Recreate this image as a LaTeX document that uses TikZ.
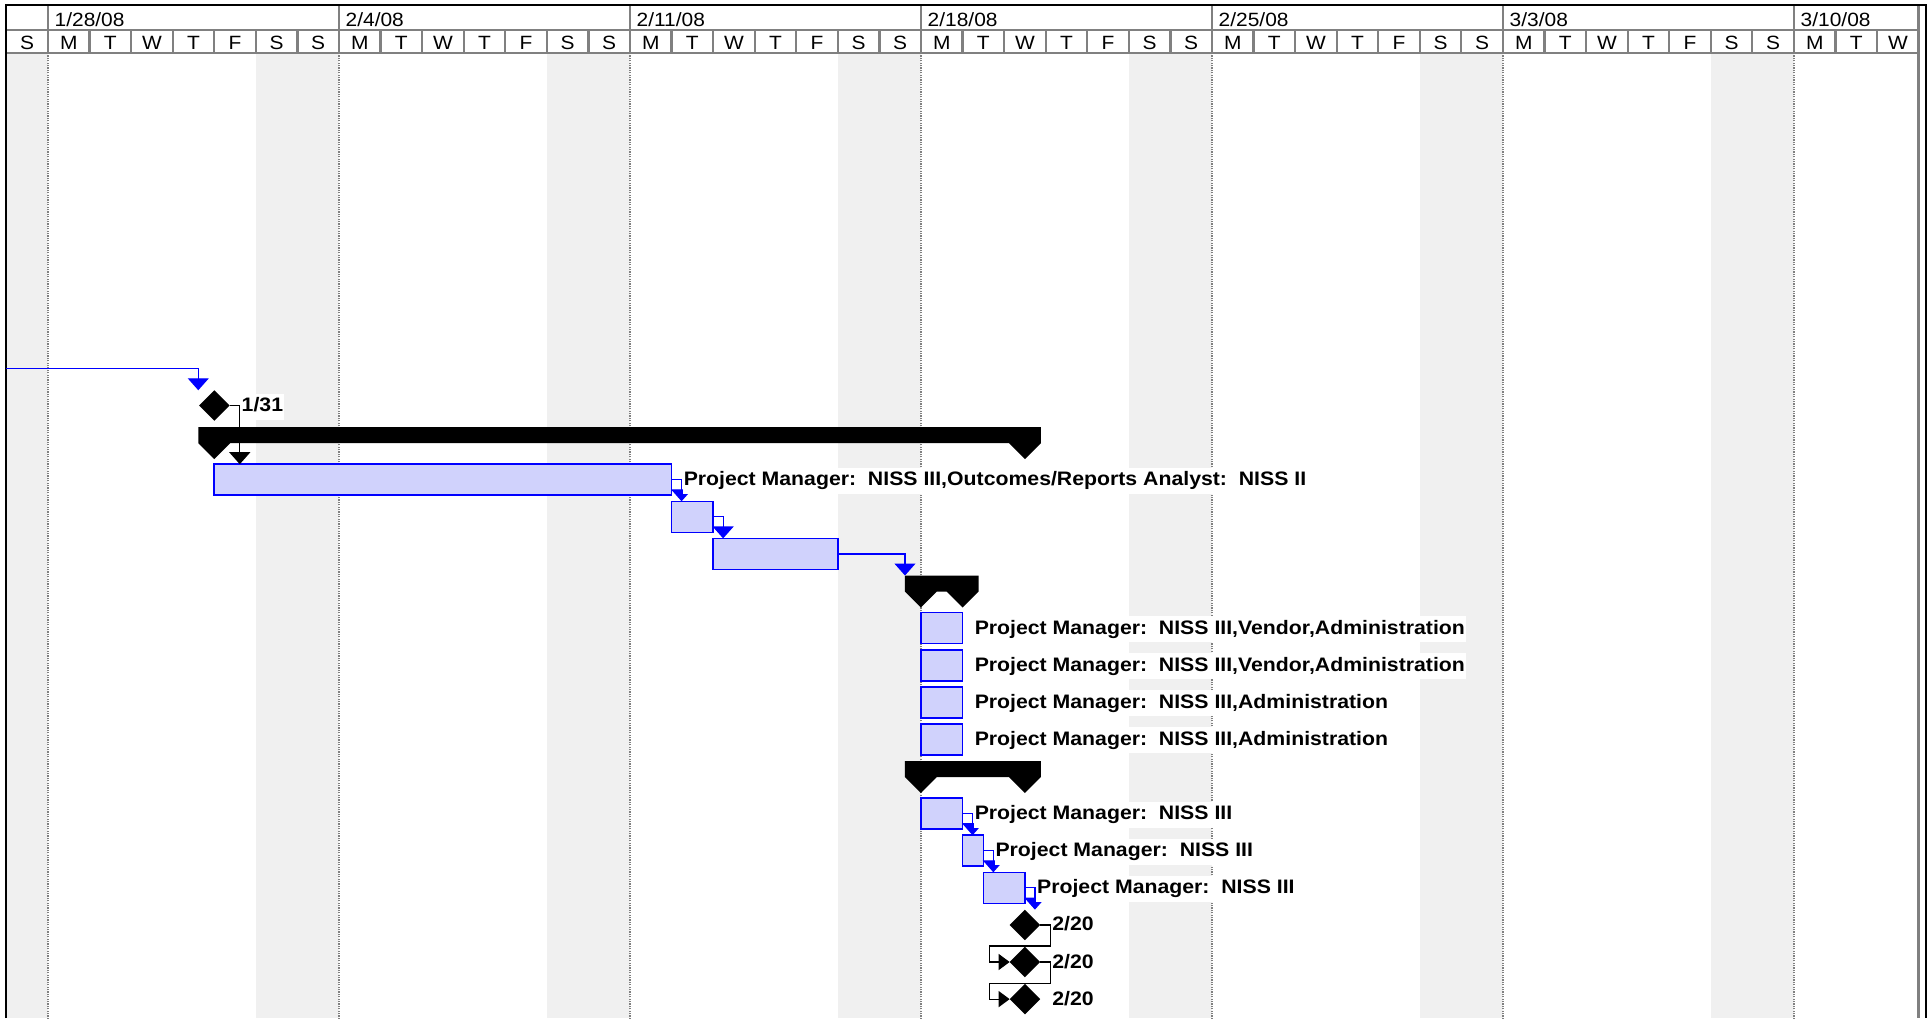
\documentclass[tikz,border=0pt]{standalone}
\usepackage{fontspec}
\setmainfont{Liberation Sans}[FakeStretch=1.09]
\usetikzlibrary{arrows.meta,shapes.geometric,calc}
\definecolor{wkend}{RGB}{240,240,240}
\definecolor{hdrline}{RGB}{128,128,128}
\definecolor{barfill}{RGB}{208,210,252}
\definecolor{msblue}{RGB}{0,0,255}
\newcommand\summarybar[4]{%
  \fill ({#2-16},{#4-15.5}) -- ({#3+16},{#4-15.5}) -- ({#3+16},{#4+0.5}) -- (#3,{#4+16.5})
    -- ({#3-16},{#4+0.5}) -- ({#2+16},{#4+0.5}) -- (#2,{#4+16.5}) -- ({#2-16},{#4+0.5}) -- cycle;
  \coordinate (#1) at (#2,{#4-15.5});}
\begin{document}
\begin{tikzpicture}[x=1pt,y=-1pt,
  taskbar/.style={draw=msblue, fill=barfill, line width=1.6pt, inner sep=0pt, outer sep=0pt, minimum height=31pt, anchor=west},
  mstone/.style={diamond, fill=black, inner sep=0pt, outer sep=0pt, minimum width=30.5pt, minimum height=30.5pt},
  bconn/.style={draw=msblue, line width=1.2pt, -{Triangle[width=21pt,length=12pt]}},
  kconn/.style={draw=black, line width=1.2pt, -{Triangle[width=21pt,length=12pt]}},
  mconn/.style={draw=black, line width=1.2pt, -{Triangle[width=16pt,length=11pt]}},
  lbl/.style={anchor=base west, fill=white, inner xsep=1pt, inner ysep=3pt, text height=15pt, text depth=5pt, font=\bfseries\fontsize{19.5}{20}\selectfont},
  wk/.style={anchor=base west, inner sep=0pt, font=\fontsize{19.2}{20}\selectfont},
  dy/.style={anchor=base, inner sep=0pt, font=\fontsize{19.2}{20}\selectfont},
  hline/.style={draw=hdrline, line width=2.2pt},
  wline/.style={draw=hdrline, line width=1.2pt, dash pattern=on 1.2pt off 1.2pt},
]
\useasboundingbox[fill=white] (0,0) rectangle (1927,1018);

% weekend shading
\foreach \a/\b in {-1/0,5/7,12/14,19/21,26/28,33/35,40/42}
  \fill[wkend] ({48+41.57*\a},53) rectangle ({48+41.57*\b},1018);
% week lines in body
\foreach \k in {0,7,14,21,28,35,42}
  \draw[wline] ({48+41.57*\k},53) -- ({48+41.57*\k},1018);

% header grid
\draw[hline] (6.4,30) -- (1918.65,30);
\draw[hline] (6.4,53) -- (1918.65,53);
\foreach \i in {0,...,44}
  \draw[hline] ({48+41.57*\i},30) -- ({48+41.57*\i},53);
\foreach \k in {0,7,14,21,28,35,42}
  \draw[hline] ({48+41.57*\k},5) -- ({48+41.57*\k},30);
\draw[draw=hdrline, line width=3pt] (1918.65,5) -- (1918.65,1018);
% outer border
\draw[line width=2.5pt] (6,1018) -- (6,5) -- (1926,5) -- (1926,1018);

% week labels
\node[wk] (w0) at (54.5,26) {1/28/08};
\node[wk] (w1) at (345.5,26) {2/4/08};
\node[wk] (w2) at (636.5,26) {2/11/08};
\node[wk] (w3) at (927.5,26) {2/18/08};
\node[wk] (w4) at (1218.5,26) {2/25/08};
\node[wk] (w5) at (1509.5,26) {3/3/08};
\node[wk] (w6) at (1800.5,26) {3/10/08};
% day letters
\node[dy] (dsun) at (27.2,49.3) {S};
\foreach \w in {0,...,5}
  \foreach \d/\L in {0/M,1/T,2/W,3/T,4/F,5/S,6/S}
    \node[dy] (d-\w-\d) at ({48+41.57*(7*\w+\d)+20.785},49.3) {\L};
\foreach \d/\L in {0/M,1/T,2/W}
  \node[dy] (d-6-\d) at ({48+41.57*(42+\d)+20.785},49.3) {\L};

% summary bars
\summarybar{s1}{214.28}{1024.90}{442.6}
\summarybar{s2}{920.97}{962.54}{591.0}
\summarybar{s3}{920.97}{1024.90}{776.5}

% tasks
\node[taskbar, minimum width=457.27pt] (t11) at (214.28,479.7) {};
\node[taskbar, minimum width=41.57pt] (t12) at (671.55,516.8) {};
\node[taskbar, minimum width=124.71pt] (t13) at (713.12,553.9) {};
\node[taskbar, minimum width=41.57pt] (t15) at (920.97,628.1) {};
\node[taskbar, minimum width=41.57pt] (t16) at (920.97,665.2) {};
\node[taskbar, minimum width=41.57pt] (t17) at (920.97,702.3) {};
\node[taskbar, minimum width=41.57pt] (t18) at (920.97,739.4) {};
\node[taskbar, minimum width=41.57pt] (t20) at (920.97,813.6) {};
\node[taskbar, minimum width=20.79pt] (t21) at (962.54,850.7) {};
\node[taskbar, minimum width=41.57pt] (t22) at (983.33,887.8) {};

% milestones
\node[mstone] (m131) at (214.28,405.5) {};
\node[mstone] (m23) at (1024.90,924.9) {};
\node[mstone] (m24) at (1024.90,962.0) {};
\node[mstone] (m25) at (1024.90,999.1) {};

% connectors
\coordinate (pred) at (6.4,368.4);
\draw[bconn] (pred) -| ($(m131.north)+(-16,0)$);
\draw[kconn] (m131.east) -| ($(t11.north west)+(25.5,0)$);
\draw[bconn] (t11.east) -| ($(t12.north west)+(10,0)$);
\draw[bconn] (t12.east) -| ($(t13.north west)+(10,0)$);
\draw[bconn] (t13.east) -| ($(s2)+(-16,0)$);
\draw[bconn] (t20.east) -| ($(t21.north west)+(10,0)$);
\draw[bconn] (t21.east) -| ($(t22.north west)+(10,0)$);
\draw[bconn] (t22.east) -| ($(m23.north)+(10,0)$);
\draw[mconn] (m23.east) -- ++(10,0) |- ($(m24.west)+(-20,-16)$) |- (m24.west);
\draw[mconn] (m24.east) -- ++(10,0) |- ($(m25.west)+(-20,-16)$) |- (m25.west);

% labels
\node[lbl] (l131) at ($(m131.east)+(11,6)$) {1/31};
\node[lbl] (l11) at ($(t11.east)+(11,6)$) {Project Manager:~~NISS III,Outcomes/Reports Analyst:~~NISS II};
\node[lbl] (l15) at ($(t15.east)+(11,6)$) {Project Manager:~~NISS III,Vendor,Administration};
\node[lbl] (l16) at ($(t16.east)+(11,6)$) {Project Manager:~~NISS III,Vendor,Administration};
\node[lbl] (l17) at ($(t17.east)+(11,6)$) {Project Manager:~~NISS III,Administration};
\node[lbl] (l18) at ($(t18.east)+(11,6)$) {Project Manager:~~NISS III,Administration};
\node[lbl] (l20) at ($(t20.east)+(11,6)$) {Project Manager:~~NISS III};
\node[lbl] (l21) at ($(t21.east)+(11,6)$) {Project Manager:~~NISS III};
\node[lbl] (l22) at ($(t22.east)+(11,6)$) {Project Manager:~~NISS III};
\node[lbl] (l23) at ($(m23.east)+(11,6)$) {2/20};
\node[lbl] (l24) at ($(m24.east)+(11,6)$) {2/20};
\node[lbl] (l25) at ($(m25.east)+(11,6)$) {2/20};
\end{tikzpicture}
\end{document}
